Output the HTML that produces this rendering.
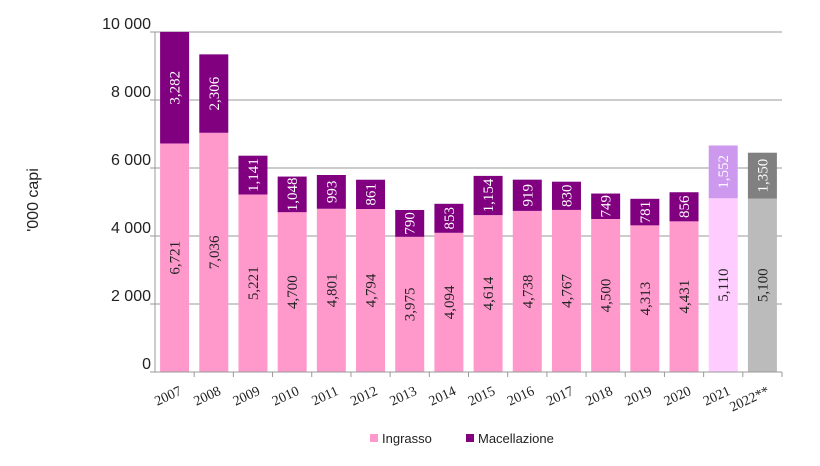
<!DOCTYPE html>
<html><head><meta charset="utf-8"><style>
body{margin:0;background:#fff;}
svg text{font-family:"Liberation Sans",sans-serif;}
.serif{font-family:"Liberation Serif",serif;}
</style></head><body>
<svg width="820" height="461" viewBox="0 0 820 461" xmlns="http://www.w3.org/2000/svg">
<g id="grid"></g>
<g id="bars"></g>
<g id="axes"></g>
<text x="38" y="200" font-size="16" text-anchor="middle" transform="rotate(-90 38 200)" fill="#222">'000 capi</text>
<g>
<g><rect x="370" y="434" width="8" height="8" fill="#ff99cc"/><text x="382" y="443" font-size="13" fill="#222">Ingrasso</text></g>
<g><rect x="466" y="434" width="8" height="8" fill="#800080"/><text x="478" y="443" font-size="13" fill="#222">Macellazione</text></g>
</g>
</svg>
<script>
const categories=["2007","2008","2009","2010","2011","2012","2013","2014","2015","2016","2017","2018","2019","2020","2021","2022**"];
const ingrasso=[6721,7036,5221,4700,4801,4794,3975,4094,4614,4738,4767,4500,4313,4431,5110,5100];
const macellazione=[3282,2306,1141,1048,993,861,790,853,1154,919,830,749,781,856,1552,1350];
const yTicks=[0,2000,4000,6000,8000,10000];
const yTickLabels=["0","2 000","4 000","6 000","8 000","10 000"];
const NS="http://www.w3.org/2000/svg";
const X0=155,X1=782,Y0=372,Y1=32,YMAX=10000;
const step=(X1-X0)/categories.length, bw=29;
const y=v=>Y0-(v/YMAX)*(Y0-Y1);
const xc=i=>X0+step*(i+0.5);
function mk(tag,attrs,parent){const e=document.createElementNS(NS,tag);for(const k in attrs)e.setAttribute(k,attrs[k]);parent.appendChild(e);return e;}
const grid=document.getElementById('grid'),bars=document.getElementById('bars'),axes=document.getElementById('axes');
yTicks.forEach((t,i)=>{
  if(t>0){const l=mk('line',{x1:X0,x2:X1,y1:y(t),y2:y(t),stroke:'#999','stroke-width':1},grid);
  
  }
  const tk=mk('line',{x1:X0-5,x2:X0,y1:y(t),y2:y(t),stroke:'#999'},axes);
  
  
  const tx=mk('text',{x:X0-4,y:y(t)-3,'font-size':16,'text-anchor':'end',fill:'#222'},axes);
  tx.textContent=yTickLabels[i];
  
  
});
const fmt=v=>v.toLocaleString('en-US');
categories.forEach((c,i)=>{
  let c1='#ff99cc',c2='#800080',t1='#222';
  if(i===14){c1='#ffccff';c2='#cc99ee';}
  if(i===15){c1='#bbbbbb';c2='#808080';}
  const x=xc(i)-bw/2;
  const r1=mk('rect',{x:x,y:y(ingrasso[i]),width:bw,height:Y0-y(ingrasso[i]),fill:c1},bars);
  
  
  const top=ingrasso[i]+macellazione[i];
  const r2=mk('rect',{x:x,y:y(top),width:bw,height:y(ingrasso[i])-y(top),fill:c2},bars);
  
  
  const cy1=(y(ingrasso[i])+Y0)/2, cy2=(y(top)+y(ingrasso[i]))/2, cx=xc(i)+5;
  const l1=mk('text',{x:cx,y:cy1,'font-size':15,'text-anchor':'middle',fill:t1,class:'serif',transform:`rotate(-90 ${cx} ${cy1})`},bars);
  l1.textContent=fmt(ingrasso[i]);
  
  
  const l2=mk('text',{x:cx,y:cy2,'font-size':15,'text-anchor':'middle',fill:'#fff',class:'serif',transform:`rotate(-90 ${cx} ${cy2})`},bars);
  l2.textContent=fmt(macellazione[i]);
  
  
  const tk=mk('line',{x1:X0+step*(i+1),x2:X0+step*(i+1),y1:Y0,y2:Y0+5,stroke:'#999'},axes);
  
  
  const lx=xc(i)+8, ly=Y0+22;
  const xl=mk('text',{x:lx,y:ly,'font-size':14,'text-anchor':'end',fill:'#222',class:'serif',transform:`rotate(-25 ${lx} ${ly})`},axes);
  xl.textContent=c;
  
  
});
const ax=mk('line',{x1:X0,x2:X0,y1:Y1,y2:Y0,stroke:'#999'},axes);


const bx=mk('line',{x1:X0,x2:X1,y1:Y0,y2:Y0,stroke:'#999'},axes);


</script>
</body></html>
